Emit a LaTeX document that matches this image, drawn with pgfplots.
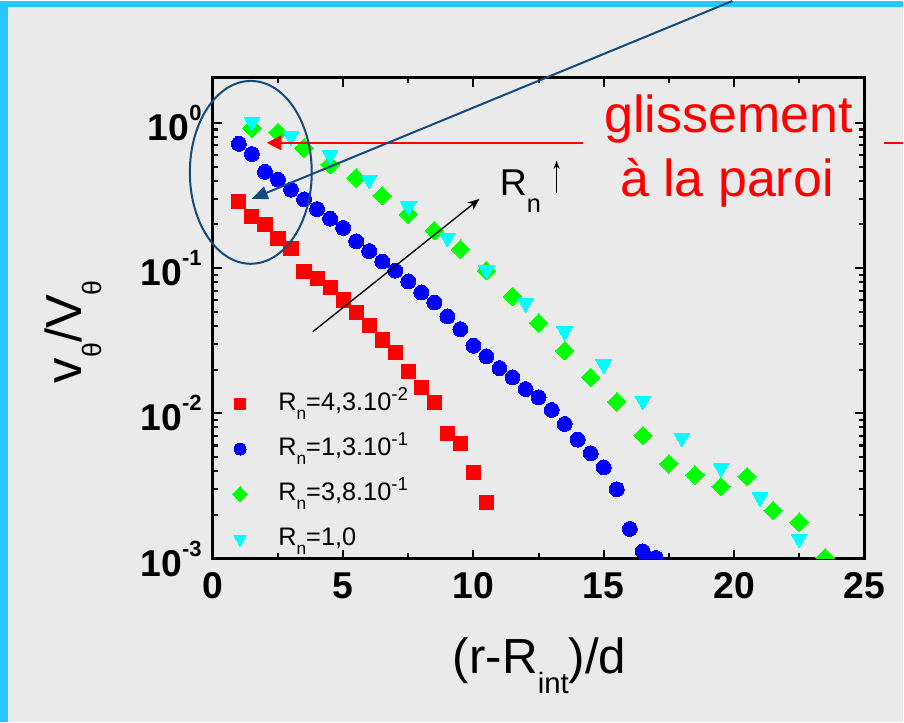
\documentclass[border=0pt]{standalone}
\usepackage{pgfplots}
\pgfplotsset{compat=1.18}
\usepackage{fontspec}
\setmainfont{Liberation Sans}
\usetikzlibrary{arrows.meta}
\definecolor{bgc}{RGB}{234,234,234}
\definecolor{brd}{RGB}{38,199,255}
\definecolor{dblue}{RGB}{20,75,125}
\definecolor{mred}{RGB}{255,0,0}
\definecolor{mblue}{RGB}{0,0,255}
\definecolor{mgreen}{RGB}{0,255,0}
\definecolor{mcyan}{RGB}{0,255,255}
\newcommand{\mysub}[3]{\raisebox{#1}{\fontsize{#2}{#2}\selectfont #3}}

\pgfplotstableread{
x y
1.0 0.286
1.5 0.226
2.0 0.199
2.5 0.160
3.0 0.137
3.5 0.0944
4.0 0.085
4.5 0.0736
5.0 0.0603
5.5 0.0496
6.0 0.0402
6.5 0.032
7.0 0.0263
7.5 0.0194
8.0 0.0151
8.5 0.0119
9.0 0.00728
9.5 0.00622
10.0 0.00389
10.5 0.00244
}\tblred
\pgfplotstableread{
x y
1.0 0.718
1.5 0.61
2.0 0.46
2.5 0.407
3.0 0.347
3.5 0.297
4.0 0.255
4.5 0.219
5.0 0.189
5.5 0.153
6.0 0.131
6.5 0.111
7.0 0.096
7.5 0.081
8.0 0.068
8.5 0.058
9.0 0.0465
9.5 0.038
10.0 0.0292
10.5 0.0247
11.0 0.0205
11.5 0.0177
12.0 0.0147
12.5 0.0129
13.0 0.01055
13.5 0.00845
14.0 0.00659
14.5 0.00531
15.0 0.00425
15.5 0.0030
16.0 0.0016
16.5 0.00112
17.0 0.00101
}\tblblue
\pgfplotstableread{
x y
1.5 0.92
2.5 0.86
3.5 0.67
4.5 0.515
5.5 0.417
6.5 0.315
7.5 0.235
8.5 0.181
9.5 0.135
10.5 0.096
11.5 0.0638
12.5 0.0419
13.5 0.027
14.5 0.0177
15.5 0.012
16.5 0.00703
17.5 0.00449
18.5 0.00377
19.5 0.00313
20.5 0.00367
21.5 0.00214
22.5 0.00178
23.5 0.00101
}\tblgreen
\pgfplotstableread{
x y
1.5 1.02
3.0 0.81
4.5 0.60
6.0 0.406
7.5 0.266
9.0 0.162
10.5 0.097
12.0 0.0574
13.5 0.0367
15.0 0.0217
16.5 0.0122
18.0 0.00678
19.5 0.00422
21.0 0.00264
22.5 0.00137
}\tblcyan

\begin{document}
\begin{tikzpicture}
\begin{scope}[x=0.75pt,y=-0.75pt]
\useasboundingbox (0,0) rectangle (904,722);
\fill[brd] (0,0) rectangle (904,722);
\fill[bgc] (8,6) rectangle (904,722);
\end{scope}
\begin{axis}[
 at={(159.75pt,-418.5pt)}, anchor=south west,
 scale only axis, width=489pt, height=361pt,
 xmin=0, xmax=25, ymode=log, ymin=1e-3, ymax=2.05,
 xtick={0,5,10,15,20,25}, minor x tick num=1,
 ytick={0.001,0.01,0.1,1},
 yticklabels={{10\mysub{15pt}{16.5}{-3}},{10\mysub{15pt}{16.5}{-2}},{10\mysub{15pt}{16.5}{-1}},{10\mysub{15pt}{16.5}{0}}},
 /pgf/number format/assume math mode=true,
 tick align=inside,
 major tick length=6.75pt, minor tick length=4pt,
 axis line style={line width=2.2pt},
 every tick/.style={black, line width=1.6pt},
 tick label style={font=\fontsize{28}{30}\selectfont\bfseries},
 xticklabel style={anchor=north, inner sep=0pt, yshift=-10.5pt},
 yticklabel style={anchor=east, inner sep=0pt, xshift=-8.25pt},
 clip marker paths=true,
 legend cell align=left,
 legend image code/.code={\path (-6pt,0pt) (6pt,0pt); \draw[#1, /tikz/every mark/.append style={scale=0.8}] plot coordinates {(0pt,0pt)};},
 legend style={draw=none, fill=none, inner sep=0pt, outer sep=0pt,
   at={(axis description cs:0,0)}, anchor=south west, xshift=14.25pt, yshift=4.7pt,
   font=\fontsize{19}{22}\selectfont, row sep=13.75pt,
   nodes={inner sep=0pt, text height=15pt, text depth=5pt},
   /tikz/every odd column/.append style={column sep=22.5pt}},
]
\addplot[color=mred, only marks, mark=square*, mark size=5.3pt, mark options={solid, draw=mred, fill=mred, line width=0pt}] table {\tblred};
\addlegendentry{R\mysub{-6.75pt}{13}{n}=4,3.10\mysub{7.5pt}{14}{-2}}
\addplot[color=mblue, only marks, mark=*, mark size=5.6pt, mark options={solid, draw=mblue, fill=mblue, line width=0pt}] table {\tblblue};
\addlegendentry{R\mysub{-6.75pt}{13}{n}=1,3.10\mysub{7.5pt}{14}{-1}}
\addplot[color=mgreen, only marks, mark=square*, mark size=4.9pt, mark options={solid, rotate=45, draw=mgreen, fill=mgreen, line width=0pt}] table {\tblgreen};
\addlegendentry{R\mysub{-6.75pt}{13}{n}=3,8.10\mysub{7.5pt}{14}{-1}}
\addplot[color=mcyan, only marks, mark=triangle*, mark size=6.8pt, mark options={solid, rotate=180, draw=mcyan, fill=mcyan, line width=0pt}] table {\tblcyan};
\addlegendentry{R\mysub{-6.75pt}{13}{n}=1,0}
\end{axis}
\begin{scope}[x=0.75pt,y=-0.75pt]
% red annotation
\draw[mred, line width=1.1pt, -{Triangle[length=11pt,width=11pt]}] (583,142) -- (267,142);
\draw[mred, line width=1.1pt] (885,142) -- (904,142);
\node[mred, anchor=base, inner sep=0pt, font=\fontsize{39}{40}\selectfont] at (729,131.7) {glissement};
\node[mred, anchor=base, inner sep=0pt, font=\fontsize{39}{40}\selectfont] at (727.5,196) {à la paroi};
% black arrow and Rn
\draw[black, line width=1pt, -{Stealth[length=9pt,width=7pt]}] (313,331) -- (480,198);
\node[anchor=base west, inner sep=0pt, font=\fontsize{28}{28}\selectfont] at (500,195) {R\mysub{-12.75pt}{19}{n}};
\draw[black, line width=0.9pt, -{Stealth[length=6pt,width=4.5pt]}] (557,192) -- (557,160);
% ellipse and blue arrow
\draw[dblue, line width=1.5pt] (251,171.5) ellipse [x radius=61, y radius=91.5];
\draw[dblue, line width=1.5pt, -{Triangle[length=12pt,width=10pt]}] (733,0) -- (252,198);
% axis labels
\node[rotate=90, anchor=base, inner sep=0pt, font=\fontsize{38}{38}\selectfont] at (82,331) {v\mysub{-15pt}{20}{θ}/V\mysub{-15pt}{20}{θ}};
\node[anchor=base, inner sep=0pt, font=\fontsize{37}{37}\selectfont] at (540,673) {(r-R\mysub{-15pt}{22}{int})/d};
\end{scope}
\end{tikzpicture}
\end{document}
